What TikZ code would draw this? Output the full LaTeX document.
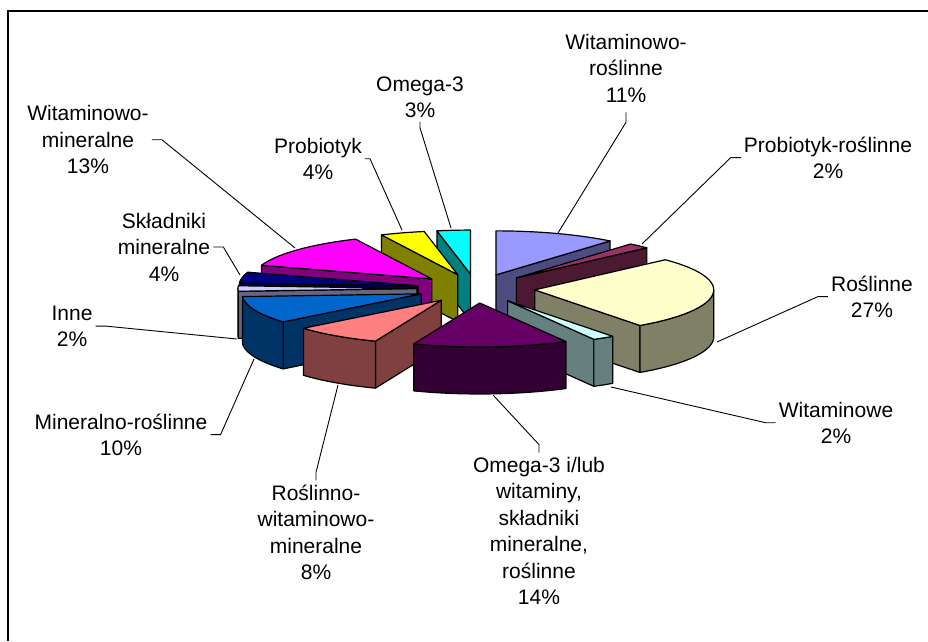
\documentclass[tikz,border=0pt]{standalone}
\usepackage{fontspec}
\setmainfont{Liberation Sans}
\definecolor{witros}{HTML}{9999FF}
\definecolor{probros}{HTML}{993366}
\definecolor{ros}{HTML}{FFFFCC}
\definecolor{wit}{HTML}{CCFFFF}
\definecolor{omgmix}{HTML}{660066}
\definecolor{roswitmin}{HTML}{FF8080}
\definecolor{minros}{HTML}{0066CC}
\definecolor{inne}{HTML}{CCCCFF}
\definecolor{skl}{HTML}{000080}
\definecolor{witmin}{HTML}{FF00FF}
\definecolor{prob}{HTML}{FFFF00}
\definecolor{omega}{HTML}{00FFFF}
\tikzset{
  lbl/.style={align=center, inner sep=0pt, anchor=base, font=\fontsize{21}{26.5}\selectfont},
  leader/.style={line width=0.9pt},
  face/.style={draw=black, line width=1.2pt, line join=round}
}
\begin{document}
\begin{tikzpicture}[x=1pt,y=-1pt]
\useasboundingbox (0,0) rectangle (928,641);
\draw [line width=1.4pt] (8,641) -- (8,11) -- (928,11);

% slices from back to front: start/end angle (clockwise from top)/colour
\foreach \a/\b/\col in {349.2/360/omega, 334.8/349.2/prob, 0/39.6/witros, 39.6/46.8/probros, 288/334.8/witmin, 273.6/288/skl, 266.4/273.6/inne, 46.8/144/ros, 230.4/266.4/minros, 201.6/230.4/roswitmin, 144/151.2/wit, 151.2/201.6/omgmix} {
  \pgfmathsetmacro\m{(\a+\b)/2}
  \pgfmathsetmacro\px{476+59*sin(\m)}
  \pgfmathsetmacro\py{288.5-14.5*cos(\m)}
  \pgfmathtruncatemacro\showa{sin(\a) < -0.01}
  \pgfmathtruncatemacro\showb{sin(\b) > 0.01}
  \pgfmathsetmacro\lo{max(\a,90)}
  \pgfmathsetmacro\hi{min(\b,270)}
  \pgfmathtruncatemacro\showc{\hi > \lo}
  \ifnum\showb=1
    \draw [face, fill=\col!50!black] (\px,\py) -- ++({179*sin(\b)},{-44*cos(\b)}) -- ++(0,47) -- ++({-179*sin(\b)},{44*cos(\b)}) -- cycle;
  \fi
  \ifnum\showa=1
    \draw [face, fill=\col!50!black] (\px,\py) -- ++({179*sin(\a)},{-44*cos(\a)}) -- ++(0,47) -- ++({-179*sin(\a)},{44*cos(\a)}) -- cycle;
  \fi
  \ifnum\showc=1
    \draw [face, fill=\col!50!black] plot[variable=\t, domain=\lo:\hi, samples=25] ({\px+179*sin(\t)},{\py-44*cos(\t)}) -- plot[variable=\t, domain=\hi:\lo, samples=25] ({\px+179*sin(\t)},{\py+47-44*cos(\t)}) -- cycle;
  \fi
  \draw [face, fill=\col] (\px,\py) -- plot[variable=\t, domain=\a:\b, samples=30] ({\px+179*sin(\t)},{\py-44*cos(\t)}) -- cycle;
}

% labels (placed at the baseline of their last line)
\node [lbl] (lwr) at (626,102) {Witaminowo-\\roślinne\\11\%};
\node [lbl] (lpr) at (828,178.5) {Probiotyk-roślinne\\2\%};
\node [lbl] (lr) at (872,317.5) {Roślinne\\27\%};
\node [lbl] (lw) at (836,443.5) {Witaminowe\\2\%};
\node [lbl] (lom) at (539,604.5) {Omega-3 i/lub\\witaminy,\\składniki\\mineralne,\\roślinne\\14\%};
\node [lbl] (lrwm) at (316,579.5) {Roślinno-\\witaminowo-\\mineralne\\8\%};
\node [lbl] (lmr) at (121,455.5) {Mineralno-roślinne\\10\%};
\node [lbl] (li) at (72,346.5) {Inne\\2\%};
\node [lbl] (ls) at (164,281) {Składniki\\mineralne\\4\%};
\node [lbl] (lwm) at (88,173.7) {Witaminowo-\\mineralne\\13\%};
\node [lbl] (lp) at (318,179.5) {Probiotyk\\4\%};
\node [lbl] (lo) at (420,117.5) {Omega-3\\3\%};

% leader ends on the slices
\coordinate (kwr) at (558,233);
\coordinate (kpr) at (642,244);
\coordinate (kr) at (717,342);
\coordinate (kw) at (611,387);
\coordinate (kom) at (493,395);
\coordinate (krwm) at (338,385);
\coordinate (kmr) at (254,359);
\coordinate (ki) at (237,339);
\coordinate (ks) at (240,275);
\coordinate (kwm) at (295,248);
\coordinate (kp) at (402,230);
\coordinate (ko) at (451,228);

\draw [leader] ([yshift=-10pt]lwr.south) -- ++(0,10) -- (kwr);
\draw [leader] ([xshift=-3pt]lpr.west) -- ++(-10,0) -- (kpr);
\draw [leader] ([xshift=-3pt]lr.west) -- ++(-10,0) -- (kr);
\draw [leader] ([xshift=-3pt]lw.west) -- ++(-10,0) -- (kw);
\draw [leader] ([yshift=4pt]lom.north) -- ++(0,-8) -- (kom);
\draw [leader] ([yshift=4pt]lrwm.north) -- ++(0,-8) -- (krwm);
\draw [leader] ([xshift=3pt]lmr.east) -- ++(10,0) -- (kmr);
\draw [leader] ([xshift=3pt]li.east) -- ++(10,0) -- (ki);
\draw [leader] ([xshift=3pt]ls.east) -- ++(10,0) -- (ks);
\draw [leader] ([xshift=3pt]lwm.east) -- ++(10,0) -- (kwm);
\draw [leader] ([xshift=3pt]lp.east) -- ++(5,0) -- (kp);
\draw [leader] ([yshift=-4pt]lo.south) -- ++(0,6) -- (ko);
\end{tikzpicture}
\end{document}
